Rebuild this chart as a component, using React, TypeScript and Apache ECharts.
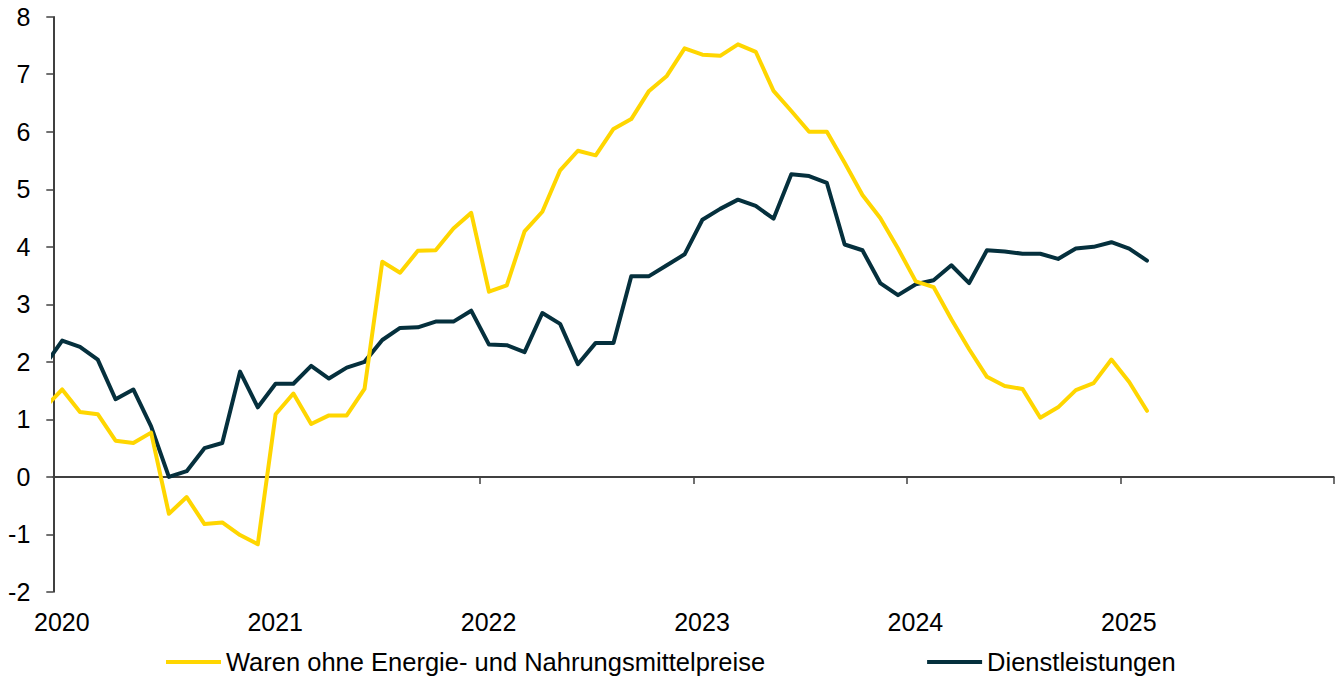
import React, { useEffect, useRef } from "react";
import * as echarts from "echarts";

// Monthly data, Dec 2019 .. Feb 2025 (plotted at mid-month)
const startYear = 2019;
const startMonth = 12;

const goodsName = "Waren ohne Energie- und Nahrungsmittelpreise";
const servicesName = "Dienstleistungen";

const goods = [
  1.2, 1.52, 1.13, 1.09, 0.63, 0.59, 0.77, -0.64, -0.35, -0.82, -0.79, -1.01, -1.17,
  1.09, 1.45, 0.92, 1.07, 1.07, 1.53, 3.74, 3.55, 3.93, 3.94, 4.32, 4.59,
  3.22, 3.33, 4.27, 4.61, 5.33, 5.67, 5.59, 6.05, 6.22, 6.71, 6.97, 7.45,
  7.34, 7.32, 7.52, 7.39, 6.71, 6.36, 6.0, 6.0, 5.46, 4.9, 4.5, 3.97,
  3.4, 3.3, 2.74, 2.22, 1.74, 1.58, 1.53, 1.03, 1.21, 1.51, 1.63, 2.04,
  1.65, 1.15,
];

const services = [
  1.93, 2.37, 2.26, 2.04, 1.35, 1.52, 0.88, 0.0, 0.1, 0.5, 0.59, 1.83, 1.21,
  1.62, 1.62, 1.93, 1.71, 1.9, 2.0, 2.38, 2.59, 2.6, 2.7, 2.7, 2.89,
  2.3, 2.29, 2.17, 2.85, 2.66, 1.96, 2.33, 2.33, 3.49, 3.49, 3.68, 3.87,
  4.47, 4.66, 4.82, 4.71, 4.49, 5.26, 5.23, 5.11, 4.04, 3.94, 3.37, 3.16,
  3.35, 3.42, 3.68, 3.37, 3.94, 3.92, 3.88, 3.88, 3.79, 3.97, 4.0, 4.08,
  3.97, 3.76,
];

const yearLabels = ["2020", "2021", "2022", "2023", "2024", "2025", ""];

const FONT = "'Liberation Sans', Arial, Helvetica, sans-serif";
const YELLOW = "#FFD600";
const DARK = "#05303D";

// month offset from Jan 2020 (mid-month position)
const months = goods.map((_, i) => {
  const m0 = (startYear - 2020) * 12 + (startMonth - 1) + i;
  return m0 + 0.5;
});

export default function App() {
  const ref = useRef<HTMLDivElement>(null);

  useEffect(() => {
    if (!ref.current) return;
    const chart = echarts.init(ref.current, null, { renderer: "svg" });
    chart.setOption({
      animation: false,
      backgroundColor: "#ffffff",
      grid: { left: 53.3, right: 4.3, top: 16.7, bottom: 87, containLabel: false },
      legend: {
        data: [goodsName, servicesName],
        left: 161,
        top: 644,
        padding: 5,
        icon: "rect",
        itemWidth: 55,
        itemHeight: 4,
        itemGap: 162,
        textStyle: { fontSize: 25.5, color: "#000", fontFamily: FONT },
      },
      xAxis: [
        {
          type: "value",
          min: 0,
          max: 72,
          interval: 12,
          position: "bottom",
          axisLine: { show: true, onZero: true, lineStyle: { color: "#404040", width: 2 } },
          axisTick: { show: true, length: 7, inside: false, lineStyle: { color: "#404040", width: 1.5 } },
          axisLabel: { show: false },
          splitLine: { show: false },
        },
        {
          type: "value",
          min: 0,
          max: 72,
          interval: 12,
          position: "bottom",
          axisLine: { show: false, onZero: false },
          axisTick: { show: false },
          axisLabel: {
            show: true,
            margin: 17,
            padding: [0, 0, 0, 17],
            fontSize: 25,
            color: "#000",
            fontFamily: FONT,
            formatter: (v: number) => yearLabels[Math.round(v / 12)] ?? "",
          },
          splitLine: { show: false },
        },
      ],
      yAxis: {
        type: "value",
        min: -2,
        max: 8,
        interval: 1,
        axisLine: { show: true, lineStyle: { color: "#000", width: 1.5 } },
        axisTick: { show: true, length: 7, inside: false, lineStyle: { color: "#404040", width: 1.5 } },
        axisLabel: { margin: 23, fontSize: 25, color: "#000", fontFamily: FONT },
        splitLine: { show: false },
      },
      series: [
        {
          name: servicesName,
          type: "line",
          xAxisIndex: 0,
          data: months.map((m, i) => [m, services[i]]),
          showSymbol: false,
          symbol: "none",
          clip: true,
          color: DARK,
          lineStyle: { color: DARK, width: 4, join: "round", cap: "round" },
        },
        {
          name: goodsName,
          type: "line",
          xAxisIndex: 0,
          data: months.map((m, i) => [m, goods[i]]),
          showSymbol: false,
          symbol: "none",
          clip: true,
          color: YELLOW,
          lineStyle: { color: YELLOW, width: 4, join: "round", cap: "round" },
        },
      ],
    });
    return () => chart.dispose();
  }, []);

  return (
    <div
      ref={ref}
      style={{ position: "fixed", left: 0, top: 0, width: 1338, height: 679, background: "#fff" }}
    />
  );
}
